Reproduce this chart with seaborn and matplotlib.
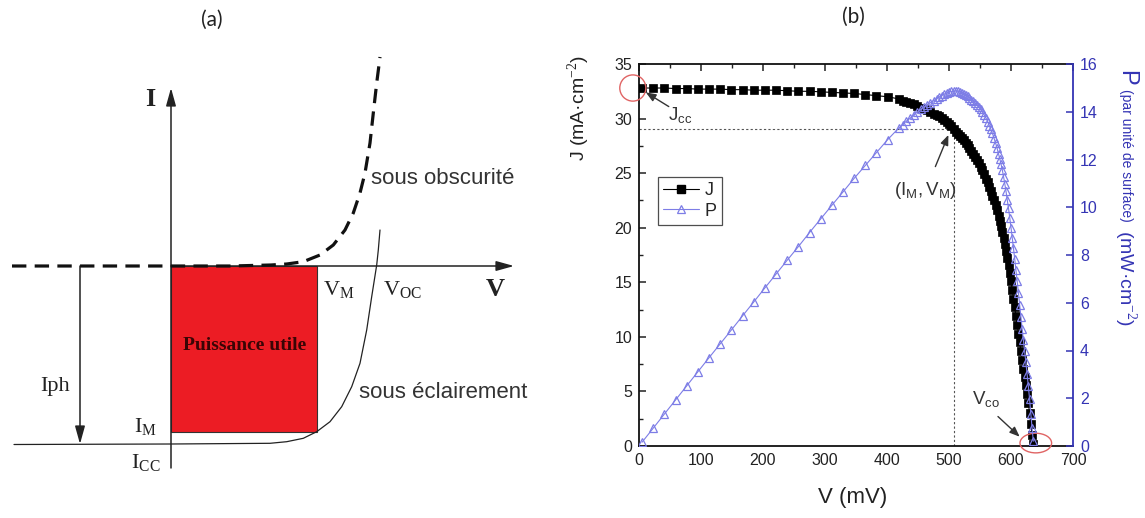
import matplotlib
matplotlib.use("Agg")
import matplotlib.pyplot as plt
import seaborn as sns
from matplotlib.patches import Rectangle, Ellipse
from matplotlib.ticker import MultipleLocator
from matplotlib.lines import Line2D

# ---------------- data : panel (b) ----------------
V_mV = [5, 23, 41, 59, 77, 95, 113, 131, 149, 167, 185, 203, 221, 239, 257, 275,
        293, 311, 329, 347, 365, 383, 401, 419,
        425, 431, 437, 443, 449, 455, 460, 465, 470, 475, 480, 484, 488, 492, 496,
        500, 504, 508, 512, 515, 518, 521, 524, 527, 530, 533, 536, 539, 542, 545,
        548, 551, 554, 557, 560, 562.5, 565, 567.5, 570, 572.5, 575, 577.5, 580,
        582, 584, 586, 588, 590, 592, 594, 596, 598, 600, 602, 604, 606, 608, 610,
        612, 614, 616, 618, 620, 622, 624, 626, 628, 630, 632, 634, 636]
J_mAcm2 = [32.8, 32.8, 32.8, 32.75, 32.75, 32.7, 32.7, 32.7, 32.65, 32.65, 32.6, 32.6,
           32.6, 32.55, 32.5, 32.5, 32.45, 32.4, 32.35, 32.3, 32.2, 32.1, 32.0, 31.8,
           31.65, 31.55, 31.4, 31.3, 31.15, 31.0, 30.9, 30.75, 30.6, 30.45, 30.3, 30.2,
           30.05, 29.9, 29.7, 29.5, 29.3, 29.05, 28.8, 28.6, 28.4, 28.2, 28.0, 27.8,
           27.55, 27.3, 27.05, 26.75, 26.5, 26.2, 25.9, 25.6, 25.25, 24.9, 24.5, 24.15,
           23.75, 23.35, 22.95, 22.5, 22.05, 21.6, 21.05, 20.6, 20.15, 19.65, 19.1,
           18.5, 17.9, 17.2, 16.55, 15.85, 15.1, 14.3, 13.5, 12.7, 11.9, 11.1, 10.3,
           9.5, 8.7, 7.9, 7.1, 6.35, 5.6, 4.8, 3.95, 3.0, 2.0, 1.0, 0.2]
P_mWcm2 = [0.16, 0.75, 1.34, 1.93, 2.52, 3.11, 3.70, 4.28, 4.86, 5.45, 6.03, 6.62,
           7.20, 7.78, 8.35, 8.94, 9.51, 10.08, 10.64, 11.21, 11.75, 12.29, 12.83, 13.32,
           13.45, 13.60, 13.72, 13.87, 13.99, 14.11, 14.21, 14.30, 14.38, 14.46, 14.54,
           14.62, 14.68, 14.74, 14.78, 14.82, 14.85, 14.87, 14.87, 14.85, 14.83, 14.80,
           14.76, 14.71, 14.65, 14.58, 14.51, 14.43, 14.36, 14.28, 14.20, 14.10, 13.98,
           13.86, 13.72, 13.58, 13.42, 13.26, 13.10, 12.90, 12.70, 12.48, 12.22, 12.02,
           11.80, 11.56, 11.28, 10.98, 10.66, 10.30, 9.95, 9.56, 9.15, 8.72, 8.28, 7.84,
           7.36, 6.90, 6.40, 5.90, 5.42, 4.92, 4.43, 3.96, 3.50, 3.00, 2.50, 1.95, 1.35,
           0.75, 0.20]
assert len(V_mV) == len(J_mAcm2) == len(P_mWcm2)
V_M, J_M = 508, 29.05
J_cc = 32.8
V_co = 640

# ---------------- data : panel (a) schematic ----------------
dark_V = [-159, 0, 60, 100, 115.7, 132.3, 149, 162.3, 174, 182.3, 189, 194, 199, 202.3, 205.7, 209]
dark_I = [0, 0, 0, 1, 2, 4.3, 11, 21, 36, 53, 73, 93, 123, 153, 183, 209]
light_V = [-157, 0, 99, 115.7, 132.3, 145.7, 159, 170.7, 180.7, 189, 195.7, 200.7, 205.7, 207.3, 209]
light_I = [-178.5, -178, -177.3, -175.7, -172.3, -165.7, -155.7, -140.7, -120.7, -97.3,
           -64, -30.7, 1, 16, 36]
Vm_a, Im_a, Icc_a = 146, -166, -178

# ---------------- style ----------------
sns.set_theme(style="white")
plt.rcParams['font.family'] = ['Liberation Sans', 'DejaVu Sans']
plt.rcParams['mathtext.fontset'] = 'custom'
plt.rcParams['mathtext.rm'] = 'Liberation Serif'
plt.rcParams['mathtext.sf'] = 'Liberation Sans'
plt.rcParams['mathtext.it'] = 'Liberation Sans:italic'

fig = plt.figure(figsize=(11.45, 5.18), dpi=100)
fig.patch.set_facecolor('white')

# ================= panel (a) =================
axa = fig.add_axes([0, 0, 0.5, 1])
axa.set_xlim(-171, 401.5)
axa.set_ylim(-252, 266)
axa.axis('off')

axa.add_patch(Rectangle((0, Im_a), Vm_a, -Im_a, facecolor='#ec1c24',
                        edgecolor='#333333', lw=0.8, zorder=1))
arr = dict(arrowstyle='-|>,head_width=0.25,head_length=0.9', color='#222222', lw=1.1,
           shrinkA=0, shrinkB=0)
axa.annotate('', xy=(0, 178), xytext=(0, -202), arrowprops=arr, zorder=3)
axa.annotate('', xy=(343, 0), xytext=(0, 0), arrowprops=arr, zorder=3)
axa.annotate('', xy=(-91, Icc_a), xytext=(-91, 0), arrowprops=arr, zorder=3)

sns.lineplot(x=dark_V, y=dark_I, ax=axa, sort=False, estimator=None, color='#111111',
             lw=2.3, zorder=4)
axa.lines[-1].set_dashes((4.5, 2.6))
sns.lineplot(x=light_V, y=light_I, ax=axa, sort=False, estimator=None, color='#222222',
             lw=0.9, zorder=4)

serif = 'Liberation Serif'
axa.text(41, 246, '(a)', fontsize=15, family='Lato', ha='center', va='center', color='#222')
axa.text(-21, 166, 'I', fontsize=19, family=serif, weight='bold', ha='center', va='center', color='#222')
axa.text(324, -24, 'V', fontsize=19, family=serif, weight='bold', ha='center', va='center', color='#222')
axa.text(168, -24, r'$\mathrm{V}_{\mathrm{M}}$', fontsize=16, ha='center', va='center', color='#222')
axa.text(231, -24, r'$\mathrm{V}_{\mathrm{OC}}$', fontsize=16, ha='center', va='center', color='#222')
axa.text(272, 88, 'sous obscurité', fontsize=16, ha='center', va='center', color='#333')
axa.text(272, -127, 'sous éclairement', fontsize=16, ha='center', va='center', color='#333')
axa.text(-116, -121, 'Iph', fontsize=16, family=serif, ha='center', va='center', color='#222')
axa.text(-26, -161, r'$\mathrm{I}_{\mathrm{M}}$', fontsize=16, ha='center', va='center', color='#222')
axa.text(-25, -197, r'$\mathrm{I}_{\mathrm{CC}}$', fontsize=16, ha='center', va='center', color='#222')
axa.text(74, -79, 'Puissance utile', fontsize=14, family=serif, weight='bold',
         ha='center', va='center', color='#3a0505', zorder=5)

# ================= panel (b) =================
blue_axis = '#3434b4'
p_color = '#7d7de6'

ax = fig.add_axes([639/1145, 1-446/518, (1073-639)/1145, (446-64)/518])
ax2 = ax.twinx()

sns.lineplot(x=V_mV, y=J_mAcm2, ax=ax, sort=False, estimator=None, color='black',
             marker='s', markersize=5.2, markeredgecolor='black', markeredgewidth=0.5,
             lw=0.8, zorder=3)
sns.lineplot(x=V_mV, y=P_mWcm2, ax=ax2, sort=False, estimator=None, color=p_color,
             marker='^', markersize=6.0, markerfacecolor='none', markeredgecolor=p_color,
             markeredgewidth=0.9, lw=0.8, zorder=3)

ax.set_xlim(0, 700)
ax.set_ylim(0, 35)
ax2.set_ylim(0, 16)
ax.set_xlabel('')
ax.set_ylabel('')
ax2.set_ylabel('')

# dotted guide lines to the maximum power point
ax.plot([0, V_M], [J_M, J_M], color='#555555', lw=0.8, ls=(0, (2, 2)), zorder=2)
ax.plot([V_M, V_M], [0, J_M], color='#555555', lw=0.8, ls=(0, (2, 2)), zorder=2)

ax.xaxis.set_major_locator(MultipleLocator(100))
ax.xaxis.set_minor_locator(MultipleLocator(50))
ax.yaxis.set_major_locator(MultipleLocator(5))
ax.yaxis.set_minor_locator(MultipleLocator(2.5))
ax2.yaxis.set_major_locator(MultipleLocator(2))

ax.tick_params(which='major', direction='in', length=5, width=1.1, top=True, right=False,
               labelsize=11.5, colors='#222222', pad=5)
ax.tick_params(which='minor', direction='in', length=3, width=1, top=True, right=False,
               colors='#222222')
ax2.tick_params(which='major', direction='in', length=5, width=1.1, labelsize=11.5,
                colors=blue_axis, pad=5)
for s in ['left', 'top', 'bottom']:
    ax.spines[s].set_color('#111111')
    ax.spines[s].set_linewidth(1.3)
ax.spines['right'].set_visible(False)
ax2.spines['right'].set_color(blue_axis)
ax2.spines['right'].set_linewidth(1.3)
for s in ['left', 'top', 'bottom']:
    ax2.spines[s].set_visible(False)

# axis titles
ax.text(-0.14, 0.885, 'J (mA·cm$^{-2}$)', transform=ax.transAxes, rotation=90,
        ha='center', va='center', fontsize=14, color='#222')
ax.text(0.493, -0.135, 'V (mV)', transform=ax.transAxes, ha='center', va='center',
        fontsize=16, color='#222')
ax.text(1.122, 0.965, 'P', transform=ax.transAxes, rotation=-90, ha='center', va='center',
        fontsize=17, color=blue_axis)
ax.text(1.122, 0.762, '(par unité de surface)', transform=ax.transAxes, rotation=-90,
        ha='center', va='center', fontsize=10, color=blue_axis)
ax.text(1.122, 0.44, '(mW·cm$^{-2}$)', transform=ax.transAxes, rotation=-90,
        ha='center', va='center', fontsize=14, color=blue_axis)

# annotations
ax.add_patch(Ellipse((-10, J_cc), 42, 2.4, fill=False, edgecolor='#e06464', lw=1.0,
                     clip_on=False, zorder=6))
ax.add_patch(Ellipse((V_co, 0.27), 51, 1.8, fill=False, edgecolor='#e06464', lw=1.0,
                     clip_on=False, zorder=6))
arrow_kw = dict(arrowstyle='-|>,head_width=0.2,head_length=0.5', color='#333333', lw=1.0,
                shrinkA=0, shrinkB=0)
ax.annotate('', xy=(11, 32.4), xytext=(48, 31.1), arrowprops=arrow_kw, zorder=6)
ax.text(67, 30.3, r'$\mathsf{J}_{\mathsf{cc}}$', fontsize=13.5, ha='center', va='center', color='#333')
ax.annotate('', xy=(499, 28.5), xytext=(478, 25.6), arrowprops=arrow_kw, zorder=6)
ax.text(462, 23.4, r'$\mathsf{(I}_{\mathsf{M}}\mathsf{,V}_{\mathsf{M}}\mathsf{)}$', fontsize=13.5,
        ha='center', va='center', color='#333')
ax.annotate('', xy=(614, 0.85), xytext=(579, 2.7), arrowprops=arrow_kw, zorder=6)
ax.text(560, 4.3, r'$\mathsf{V}_{\mathsf{co}}$', fontsize=13.5, ha='center', va='center', color='#333')

# legend
h_j = Line2D([], [], color='black', marker='s', markersize=5.2, lw=0.8)
h_p = Line2D([], [], color=p_color, marker='^', markersize=6, markerfacecolor='none',
             markeredgewidth=0.9, lw=0.8)
leg = ax2.legend([h_j, h_p], ['J', 'P'], loc='upper left', bbox_to_anchor=(0.043, 0.705),
                 fontsize=13, frameon=True, fancybox=False, edgecolor='#222222',
                 handlelength=2.0, handletextpad=0.3, borderpad=0.3, labelspacing=0.2,
                 borderaxespad=0)
leg.get_frame().set_linewidth(0.9)

fig.text(853/1145, 1-17/518, '(b)', fontsize=15, family='Lato', ha='center', va='center',
         color='#222')

fig.savefig('out.png', dpi=100)
